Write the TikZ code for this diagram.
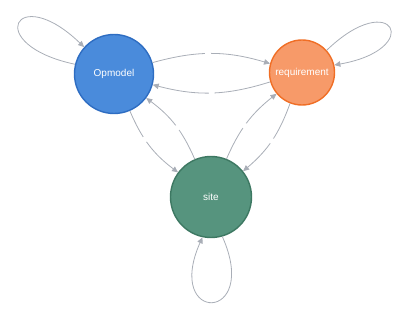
\documentclass[tikz,border=0pt]{standalone}
\usepackage{fontspec}
\setmainfont{Liberation Sans}
\usetikzlibrary{arrows.meta}

\definecolor{linkgrey}{HTML}{A9AEB7}
\definecolor{opfill}{HTML}{4A8BDB}
\definecolor{opline}{HTML}{2E6DC2}
\definecolor{reqfill}{HTML}{F79A69}
\definecolor{reqline}{HTML}{F06E25}
\definecolor{sitefill}{HTML}{56947E}
\definecolor{siteline}{HTML}{3D7862}

\tikzset{
	state/.style={circle, draw, line width=1.4pt, text=white, inner sep=0pt,
		font=\fontsize{10}{12}\selectfont},
	link/.style={draw=linkgrey, line width=0.8pt, -{Triangle[length=6pt,width=5.5pt]}},
	gap/.style={circle, fill=white, inner sep=0pt, minimum size=6pt},
}

\begin{document}
\begin{tikzpicture}[x=1pt, y=1pt]
		%%%%% START %%%%%
		
		\useasboundingbox (0, 0) rectangle (406, 310);
		
		\node[state, fill=opfill, draw=opline, minimum size=79pt] (op) at (114, 236) {Opmodel};
		\node[state, fill=reqfill, draw=reqline, minimum size=65pt] (req) at (302, 237.5) {requirement};
		\node[state, fill=sitefill, draw=siteline, minimum size=81pt] (site) at (211, 113) {site};
		
		% self loops
		\draw[link] (op.166) .. controls +(168:95) and +(136:95) .. (op.138);
		\draw[link] (req.42) .. controls +(44:92) and +(10:92) .. (req.13);
		\draw[link] (site.-74) .. controls +(-66:95) and +(-114:95) .. (site.-102);
		
		% links between the states
		\draw[link] (op) to[bend left=16] node[gap, pos=0.47] (g1) {} (req);
		\draw[link] (req) to[bend left=16] node[gap, pos=0.5] (g2) {} (op);
		
		\draw[link] (op) to[bend right=15] node[gap, pos=0.4] (g3) {} (site);
		\draw[link] (site) to[bend right=15] node[gap, pos=0.45] (g4) {} (op);
		
		\draw[link] (site) to[bend left=14] node[gap, pos=0.45] (g5) {} (req);
		\draw[link] (req) to[bend left=15] node[gap, pos=0.5] (g6) {} (site);
		
		%%%%% END %%%%%
	\end{tikzpicture}
\end{document}
